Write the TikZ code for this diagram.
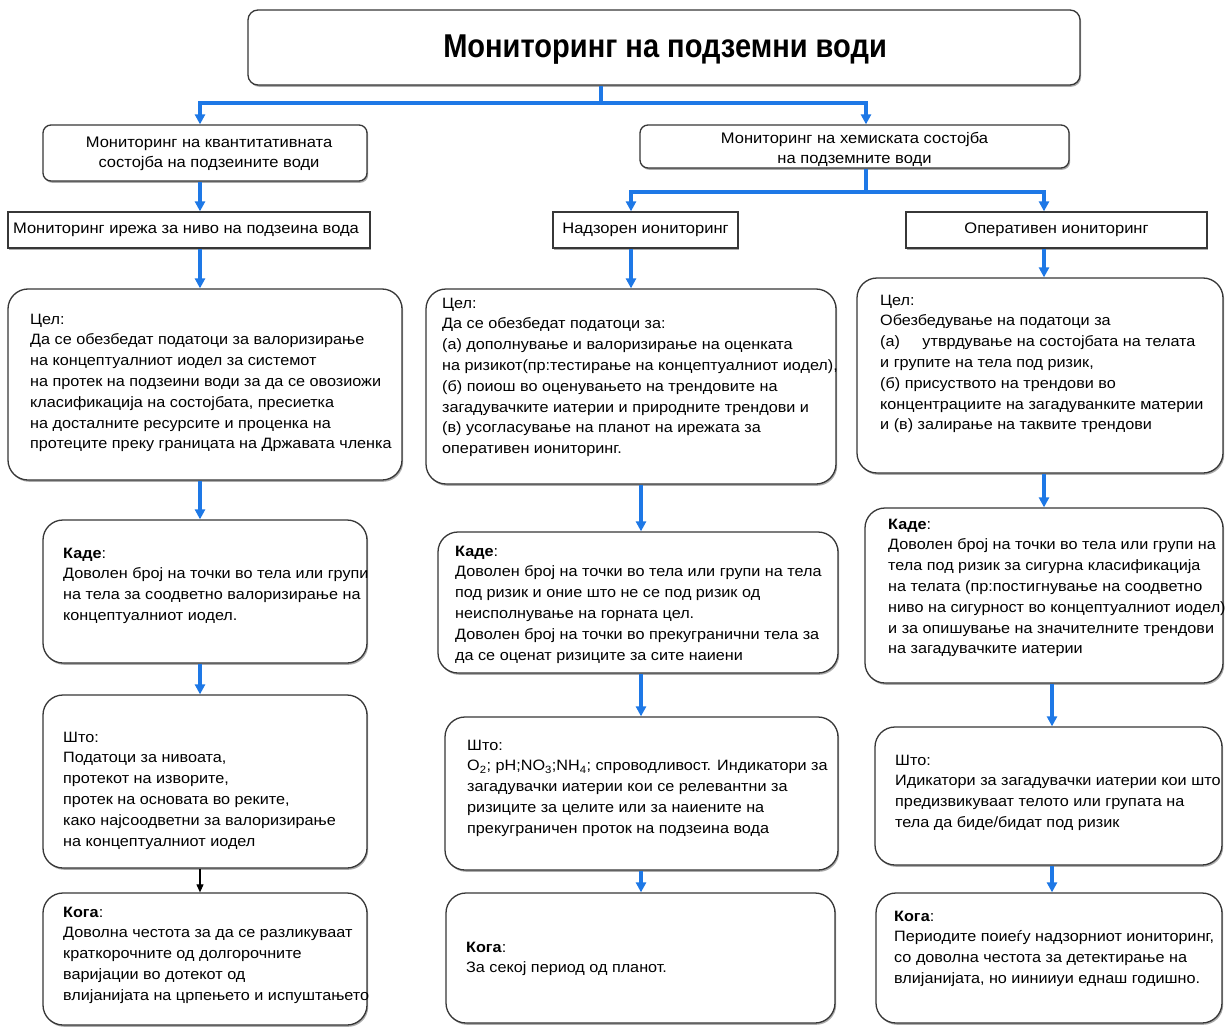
\documentclass[tikz,border=0pt]{standalone}
\usepackage{fontspec}
\setmainfont{Liberation Sans}
\newfontfamily\titlefont[FakeStretch=0.88]{Liberation Sans}
\newfontfamily\bodyfont[FakeStretch=1.08]{Liberation Sans}
\usetikzlibrary{arrows.meta,fit,shadows}
\definecolor{arrowblue}{RGB}{30,120,230}
\definecolor{boxline}{RGB}{55,55,55}
\begin{document}
\begin{tikzpicture}[x=1pt,y=-1pt,
  box/.style={draw=boxline, line width=1.3pt, fill=white, inner sep=0pt,
    rounded corners=#1,
    drop shadow={shadow xshift=1.2pt, shadow yshift=-1.8pt, fill=black!60, opacity=0.55}},
  box/.default=20pt,
  txt/.style={font=\bodyfont\fontsize{15}{20.8}\selectfont, align=left, inner sep=0pt, anchor=north west},
  hdr/.style={font=\bodyfont\fontsize{15.3}{20.5}\selectfont, align=center, inner sep=0pt},
  barrow/.style={draw=arrowblue, line width=3.2pt, -{Triangle[length=10pt,width=10pt]}},
  bline/.style={draw=arrowblue, line width=3.2pt},
  karrow/.style={draw=black, line width=1.1pt, -{Triangle[length=8pt,width=7pt]}}]
\useasboundingbox (0,0) rectangle (1225,1027);
\fill[white] (0,0) rectangle (1225,1027);

% column coordinates
\coordinate (cA) at (200,0);
\coordinate (cB1) at (631,0);
\coordinate (cB2) at (641,0);
\coordinate (cC1) at (1044,0);
\coordinate (cC2) at (1052,0);
\coordinate (cR) at (866,0);
\coordinate (j1) at (601,103);
\coordinate (j2) at (866,192);

% top levels
\node[box=10pt, fit={(248,10) (1080,85)}] (title) {};
\node[box=8pt, fit={(43,125) (367,181)}] (l1a) {};
\node[box=8pt, fit={(640,125) (1069,168)}] (l1b) {};
\node[box=0pt, fit={(8,212) (370,248)}] (l2a) {};
\node[box=0pt, fit={(553,212) (738,248)}] (l2b) {};
\node[box=0pt, fit={(906,212) (1207,248)}] (l2c) {};

\node[font=\titlefont\bfseries\fontsize{33}{38}\selectfont, inner sep=0pt] (titlet) at ([xshift=1pt,yshift=-2pt]title.center) {Мониторинг на подземни води};
\node[hdr] (l1at) at ([xshift=4pt,yshift=-1pt]l1a.center) {Мониторинг на квантитативната\\состојба на подзеините води};
\node[hdr] (l1bt) at ([yshift=-3pt]l1b.center) {Мониторинг на хемиската состојба\\на подземните води};
\node[hdr] (l2at) at ([xshift=-3pt]l2a.center) {Мониторинг ирежа за ниво на подзеина вода};
\node[hdr] (l2bt) at (l2b.center) {Надзорен иониторинг};
\node[hdr] (l2ct) at (l2c.center) {Оперативен иониторинг};

% Цел
\node[box, fit={(8,289) (402,480)}] (cel1) {};
\node[box, fit={(426,289) (836,484)}] (cel2) {};
\node[box, fit={(857,278) (1223,473)}] (cel3) {};
% Каде
\node[box, fit={(43,520) (367,663)}] (kade1) {};
\node[box, fit={(438,532) (838,673)}] (kade2) {};
\node[box, fit={(865,508) (1223,683)}] (kade3) {};
% Што
\node[box, fit={(43,695) (367,868)}] (sto1) {};
\node[box, fit={(445,717) (838,870)}] (sto2) {};
\node[box, fit={(875,727) (1222,865)}] (sto3) {};
% Кога
\node[box, fit={(43,893) (367,1025)}] (koga1) {};
\node[box, fit={(446,893) (835,1023)}] (koga2) {};
\node[box, fit={(876,893) (1222,1023)}] (koga3) {};

% texts
\node[txt] (cel1t) at (30,313.5) {Цел:\\Да се обезбедат податоци за валоризирање\\на концептуалниот иодел за системот\\на протек на подзеини води за да се овозиожи\\класификација на состојбата, пресиетка\\на досталните ресурсите и проценка на\\протеците преку границата на Државата членка};
\node[txt] (cel2t) at (442,297.5) {Цел:\\Да се обезбедат податоци за:\\(а) дополнување и валоризирање на оценката\\на ризикот(пр:тестирање на концептуалниот иодел),\\(б) поиош во оценувањето на трендовите на\\загадувачките иатерии и природните трендови и\\(в) усогласување на планот на ирежата за\\оперативен иониторинг.};
\node[txt] (cel3t) at (880,294.5) {Цел:\\Обезбедување на податоци за\\(а)\hspace{18pt} утврдување на состојбата на телата\\и групите на тела под ризик,\\(б) присуството на трендови во\\концентрациите на загадуванките материи\\и (в) залирање на таквите трендови};

\node[txt] (kade1t) at (63,547.5) {\textbf{Каде}:\\Доволен број на точки во тела или групи\\на тела за соодветно валоризирање на\\концептуалниот иодел.};
\node[txt] (kade2t) at (455,545.5) {\textbf{Каде}:\\Доволен број на точки во тела или групи на тела\\под ризик и оние што не се под ризик од\\неисполнување на горната цел.\\Доволен број на точки во прекугранични тела за\\да се оценат ризиците за сите наиени};
\node[txt] (kade3t) at (888,518.5) {\textbf{Каде}:\\Доволен број на точки во тела или групи на\\тела под ризик за сигурна класификација\\на телата (пр:постигнување на соодветно\\ниво на сигурност во концептуалниот иодел)\\и за опишување на значителните трендови\\на загадувачките иатерии};

\node[txt] (sto1t) at (63,731.5) {Што:\\Податоци за нивоата,\\протекот на изворите,\\протек на основата во реките,\\како најсоодветни за валоризирање\\на концептуалниот иодел};
\node[txt] (sto2t) at (467,739.5) {Што:\\O\textsubscript{2}; pH;NO\textsubscript{3};NH\textsubscript{4}; спроводливост. Индикатори за\\загадувачки иатерии кои се релевантни за\\ризиците за целите или за наиените на\\прекуграничен проток на подзеина вода};
\node[txt] (sto3t) at (895,754.5) {Што:\\Идикатори за загадувачки иатерии кои што\\предизвикуваат телото или групата на\\тела да биде/бидат под ризик};

\node[txt] (koga1t) at (63,906.5) {\textbf{Кога}:\\Доволна честота за да се разликуваат\\краткорочните од долгорочните\\варијации во дотекот од\\влијанијата на црпењето и испуштањето};
\node[txt] (koga2t) at (466,941.5) {\textbf{Кога}:\\За секој период од планот.};
\node[txt] (koga3t) at (894,910.5) {\textbf{Кога}:\\Периодите поиеѓу надзорниот иониторинг,\\со доволна честота за детектирање на\\влијанијата, но иинииуи еднаш годишно.};

% connectors
\draw[bline] (title.south -| j1) -- (j1);
\draw[barrow] (j1) -| (l1a.north -| cA);
\draw[barrow] (j1) -| (l1b.north -| cR);
\draw[bline] (l1b.south -| j2) -- (j2);
\draw[barrow] (j2) -| (l2b.north -| cB1);
\draw[barrow] (j2) -| (l2c.north -| cC1);
\draw[barrow] (l1a.south -| cA) -- (l2a.north -| cA);
\draw[barrow] (l2a.south -| cA) -- (cel1.north -| cA);
\draw[barrow] (l2b.south -| cB1) -- (cel2.north -| cB1);
\draw[barrow] (l2c.south -| cC1) -- (cel3.north -| cC1);
\draw[barrow] (cel1.south -| cA) -- (kade1.north -| cA);
\draw[barrow] (cel2.south -| cB2) -- (kade2.north -| cB2);
\draw[barrow] (cel3.south -| cC1) -- (kade3.north -| cC1);
\draw[barrow] (kade1.south -| cA) -- (sto1.north -| cA);
\draw[barrow] (kade2.south -| cB2) -- (sto2.north -| cB2);
\draw[barrow] (kade3.south -| cC2) -- (sto3.north -| cC2);
\draw[karrow] (sto1.south -| cA) -- (koga1.north -| cA);
\draw[barrow] (sto2.south -| cB2) -- (koga2.north -| cB2);
\draw[barrow] (sto3.south -| cC2) -- (koga3.north -| cC2);
\end{tikzpicture}
\end{document}
